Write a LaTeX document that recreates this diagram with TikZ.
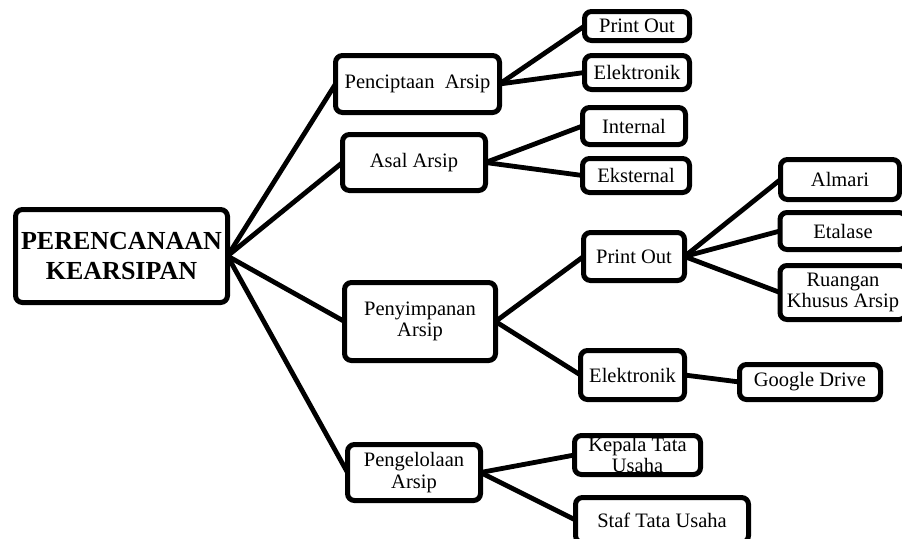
\documentclass[tikz,border=0pt]{standalone}
\usepackage{fontspec}
\setmainfont{Liberation Serif}
\begin{document}
\begin{tikzpicture}[x=1pt,y=-1pt,
  box/.style={draw=black, line width=5pt, rounded corners=7pt, fill=white,
    inner sep=0pt, outer sep=0pt, align=center,
    font=\fontsize{20.5}{21.5}\selectfont},
  link/.style={line width=4.8pt}]
\useasboundingbox (0,0) rectangle (902,538);
\clip (0,0) rectangle (902,538);
% root
\node[box, minimum width=212pt, minimum height=93pt,
  font=\bfseries\fontsize{26}{30}\selectfont] (root) at (121.5,256) {PERENCANAAN\\KEARSIPAN};
% level 1
\node[box, minimum width=164pt, minimum height=57pt] (pc) at (417.5,84) {Penciptaan\ \ Arsip};
\node[box, minimum width=143pt, minimum height=56pt] (asal) at (414,162.5) {Asal Arsip};
\node[box, minimum width=151pt, minimum height=78pt] (peny) at (420,321.5) {Penyimpanan\\Arsip};
\node[box, minimum width=133pt, minimum height=56pt] (peng) at (414,472.5) {Pengelolaan\\Arsip};
% level 2
\node[box, minimum width=105pt, minimum height=29pt] (po1) at (637,26) {Print Out};
\node[box, minimum width=105pt, minimum height=34pt] (el1) at (637,72.5) {Elektronik};
\node[box, minimum width=103pt, minimum height=37pt] (int) at (634,126) {Internal};
\node[box, minimum width=107pt, minimum height=34pt] (eks) at (636,175.5) {Eksternal};
\node[box, minimum width=101pt, minimum height=48pt] (po2) at (634,256.5) {Print Out};
\node[box, minimum width=104pt, minimum height=49pt] (el2) at (632.5,375) {Elektronik};
\node[box, minimum width=126pt, minimum height=39pt, font=\fontsize{20.5}{20.5}\selectfont] (kep) at (637.5,455) {Kepala Tata\\Usaha};
\node[box, minimum width=173pt, minimum height=45pt] (staf) at (662,520) {Staf Tata Usaha};
% level 3
\node[box, minimum width=119pt, minimum height=40pt] (alm) at (840,179.5) {Almari};
\node[box, minimum width=126pt, minimum height=37pt] (eta) at (843,231) {Etalase};
\node[box, minimum width=126pt, minimum height=54pt] (ruang) at (843,292.5) {Ruangan\\Khusus Arsip};
\node[box, minimum width=141pt, minimum height=35pt] (gd) at (810,382) {Google Drive};
% connectors
\draw[link] (root.east) -- (pc.west);
\draw[link] (root.east) -- (asal.west);
\draw[link] (root.east) -- (peny.west);
\draw[link] (root.east) -- (peng.west);
\draw[link] (pc.east) -- (po1.west);
\draw[link] (pc.east) -- (el1.west);
\draw[link] (asal.east) -- (int.west);
\draw[link] (asal.east) -- (eks.west);
\draw[link] (peny.east) -- (po2.west);
\draw[link] (peny.east) -- (el2.west);
\draw[link] (po2.east) -- (alm.west);
\draw[link] (po2.east) -- (eta.west);
\draw[link] (po2.east) -- (ruang.west);
\draw[link] (el2.east) -- (gd.west);
\draw[link] (peng.east) -- (kep.west);
\draw[link] (peng.east) -- (staf.west);
\end{tikzpicture}
\end{document}
